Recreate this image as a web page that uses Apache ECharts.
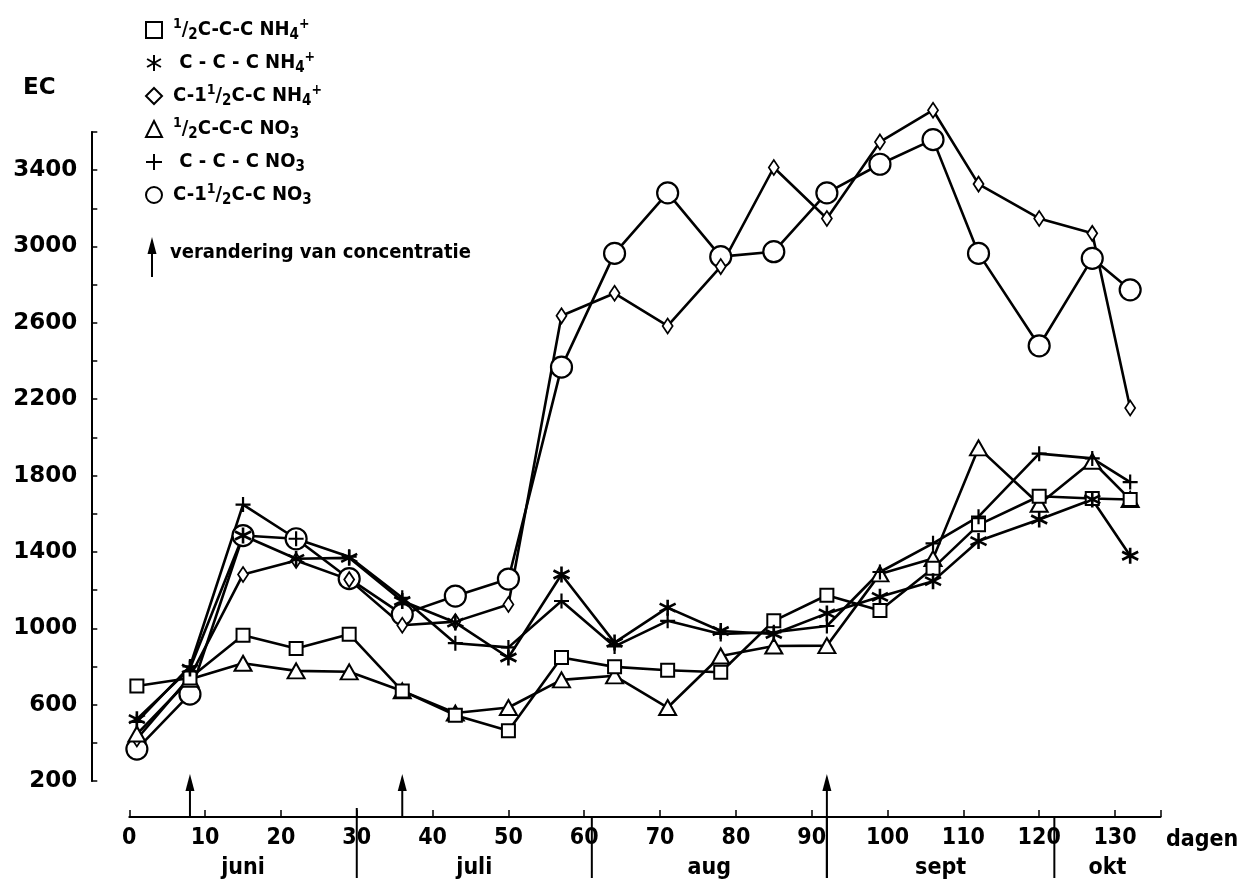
<!DOCTYPE html>
<html>
<head>
<meta charset="utf-8">
<script src="https://cdn.jsdelivr.net/npm/echarts@6/dist/echarts.min.js"></script>
<style>
  html, body { margin: 0; padding: 0; background: #fff; }
  #chart { width: 1242px; height: 886px; }
</style>
</head>
<body>
<div id="chart"></div>
<script>
// Sampling days (dagen after planting)
const days = [1, 8, 15, 22, 29, 36, 43, 50, 57, 64, 71, 78, 85, 92, 99, 106, 112, 120, 127, 132];

// EC per treatment
const halfNH4   = [698, 740, 963, 894, 969, 672, 545, 463, 847, 798, 780, 770, 1039, 1173, 1093, 1315, 1542, 1692, 1680, 1675];
const ccNH4     = [524, 789, 1486, 1364, 1369, 1143, 1030, 847, 1282, 925, 1108, 986, 970, 1078, 1165, 1247, 1457, 1570, 1675, 1380];
const oneHalfNH4 = [420, 745, 1282, 1355, 1255, 1016, 1035, 1125, 2637, 2755, 2584, 2895, 3414, 3147, 3548, 3714, 3327, 3147, 3069, 2154];
const halfNO3   = [446, 733, 817, 777, 772, 672, 556, 585, 730, 751, 585, 855, 907, 909, 1285, 1365, 1945, 1650, 1875, 1675];
const ccNO3     = [510, 800, 1648, 1469, 1375, 1160, 922, 900, 1143, 905, 1039, 970, 979, 1012, 1295, 1445, 1585, 1915, 1890, 1766];
const oneHalfNO3 = [367, 655, 1486, 1469, 1260, 1073, 1169, 1258, 2368, 2964, 3281, 2947, 2973, 3281, 3431, 3560, 2964, 2480, 2938, 2773];

// Days on which the nutrient concentration was changed
const changeDays = [8, 36, 92];

// Month boundaries (days) and month names
const monthBounds = [0, 30, 61, 92, 122, 136];
const months = ['juni', 'juli', 'aug', 'sept', 'okt'];

// Axis ranges and ticks
const xMin = 0, xMax = 136, xStep = 10, xLastLabel = 130;
const yMin = 200, yMax = 3600, yStep = 200, yLabelStep = 400;

// Legend entries
const seriesNames = ['½C-C-C NH4+', 'C-C-C NH4+', 'C-1½C-C NH4+', '½C-C-C NO3', 'C-C-C NO3', 'C-1½C-C NO3'];
const legendText = [
  '{sup|1}/{sub|2}C-C-C NH{sub|4}{sup|+}',
  ' C - C - C NH{sub|4}{sup|+}',
  'C-1{sup|1}/{sub|2}C-C NH{sub|4}{sup|+}',
  '{sup|1}/{sub|2}C-C-C NO{sub|3}',
  ' C - C - C NO{sub|3}',
  'C-1{sup|1}/{sub|2}C-C NO{sub|3}'
];
const legendNote = 'verandering van concentratie';

const ASTERISK = 'path://M0,-10L0,10M-8.66,-5L8.66,5M-8.66,5L8.66,-5';
const PLUS = 'path://M0,-10L0,10M-10,0L10,0';

const FONT = 'DejaVu Sans';
const FONT_C = 'DejaVu Sans Condensed';
const INK = '#000';

function pairs(vals) { return days.map((d, i) => [d, vals[i]]); }

function makeSeries(name, vals, symbol, size, bw) {
  return {
    name: name,
    type: 'line',
    data: pairs(vals),
    symbol: symbol,
    symbolSize: size,
    showAllSymbol: true,
    clip: false,
    lineStyle: { color: INK, width: 2.6 },
    itemStyle: { color: '#fff', borderColor: INK, borderWidth: bw || 2 },
    emphasis: { disabled: true }
  };
}

// Drawing order: big open circles underneath, crosses on top
const series = [
  makeSeries(seriesNames[5], oneHalfNO3, 'circle', 21, 2.2),
  makeSeries(seriesNames[2], oneHalfNH4, 'diamond', [10, 15], 1.8),
  makeSeries(seriesNames[3], halfNO3, 'triangle', [17, 15], 2),
  makeSeries(seriesNames[0], halfNH4, 'rect', 13, 2),
  makeSeries(seriesNames[4], ccNO3, PLUS, 15, 2.2),
  makeSeries(seriesNames[1], ccNH4, ASTERISK, 16, 2.6)
];

const legendIcons = ['rect', ASTERISK, 'diamond', 'triangle', PLUS, 'circle'];

const option = {
  animation: false,
  backgroundColor: '#fff',
  grid: { left: 129.3, right: 81.5, top: 132, bottom: 105, containLabel: false, outerBoundsMode: 'none' },
  legend: {
    orient: 'vertical',
    left: 140,
    top: 12,
    itemWidth: 16,
    itemHeight: 16,
    itemGap: 7,
    selectedMode: false,
    data: seriesNames.map((n, i) => ({ name: n, icon: legendIcons[i] })),
    formatter: name => legendText[seriesNames.indexOf(name)],
    textStyle: {
      fontFamily: FONT_C, fontWeight: 'bold', fontSize: 20, color: INK,
      lineHeight: 26, padding: [0, 0, 0, 6],
      rich: {
        sup: { fontFamily: FONT_C, fontWeight: 'bold', fontSize: 14, color: INK, verticalAlign: 'top', lineHeight: 14 },
        sub: { fontFamily: FONT_C, fontWeight: 'bold', fontSize: 15, color: INK, verticalAlign: 'bottom', lineHeight: 15 }
      }
    }
  },
  xAxis: {
    type: 'value',
    min: xMin, max: xMax, interval: xStep,
    offset: 36,
    axisLine: { show: true, onZero: false, lineStyle: { color: INK, width: 2 } },
    axisTick: { show: true, inside: true, length: 7, lineStyle: { color: INK, width: 1.5 } },
    splitLine: { show: false },
    axisLabel: {
      margin: 10, color: INK, fontFamily: FONT_C, fontWeight: 'bold', fontSize: 23,
      formatter: v => (v <= xLastLabel ? String(v) : '')
    }
  },
  yAxis: {
    type: 'value',
    min: yMin, max: yMax, interval: yStep,
    offset: 38,
    axisLine: { show: true, onZero: false, lineStyle: { color: INK, width: 2 } },
    axisTick: { show: true, inside: true, length: 6, lineStyle: { color: INK, width: 1.5 } },
    splitLine: { show: false },
    axisLabel: {
      margin: 14, color: INK, fontFamily: FONT, fontWeight: 'bold', fontSize: 23,
      formatter: v => ((v - yMin) % yLabelStep === 0 && v < yMax ? String(v) : '')
    }
  },
  series: series
};

const chart = echarts.init(document.getElementById('chart'), null, { renderer: 'canvas' });
chart.setOption(option);

// Annotations placed from the axis scales
const px = d => chart.convertToPixel({ xAxisIndex: 0 }, d);
const gridBottom = chart.convertToPixel({ yAxisIndex: 0 }, yMin);
const axisY = gridBottom + 36;
const sepBottom = axisY + 61;
const arrowTop = axisY - 43;

const graphics = [];

function arrow(x, top, bottom) {
  graphics.push({ type: 'line', shape: { x1: x, y1: top + 12, x2: x, y2: bottom }, style: { stroke: INK, lineWidth: 2 } });
  graphics.push({ type: 'polygon', shape: { points: [[x, top], [x - 4.5, top + 17], [x + 4.5, top + 17]] }, style: { fill: INK } });
}

changeDays.forEach(d => arrow(px(d), arrowTop, d === monthBounds[3] ? sepBottom : axisY));

monthBounds.slice(1, -1).forEach(d => {
  graphics.push({ type: 'line', shape: { x1: px(d), y1: axisY - (d === monthBounds[1] ? 9 : 0), x2: px(d), y2: sepBottom }, style: { stroke: INK, lineWidth: 2 } });
});

months.forEach((m, i) => {
  const mid = (monthBounds[i] + monthBounds[i + 1]) / 2;
  graphics.push({ type: 'text', x: px(mid), y: axisY + 51, style: { text: m, fill: INK, font: 'bold 23px "' + FONT_C + '"', align: 'center', verticalAlign: 'middle' } });
});

graphics.push({ type: 'text', x: 1166, y: axisY + 23, style: { text: 'dagen', fill: INK, font: 'bold 23px "' + FONT_C + '"', align: 'left', verticalAlign: 'middle' } });
graphics.push({ type: 'text', x: 23, y: 88, style: { text: 'EC', fill: INK, font: 'bold 23px "' + FONT + '"', align: 'left', verticalAlign: 'middle' } });

// Legend note: arrow marks a change of concentration
arrow(152, 237, 277);
graphics.push({ type: 'text', x: 170, y: 253, style: { text: legendNote, fill: INK, font: 'bold 20px "' + FONT_C + '"', align: 'left', verticalAlign: 'middle' } });

chart.setOption({ graphic: graphics });
</script>
</body>
</html>
